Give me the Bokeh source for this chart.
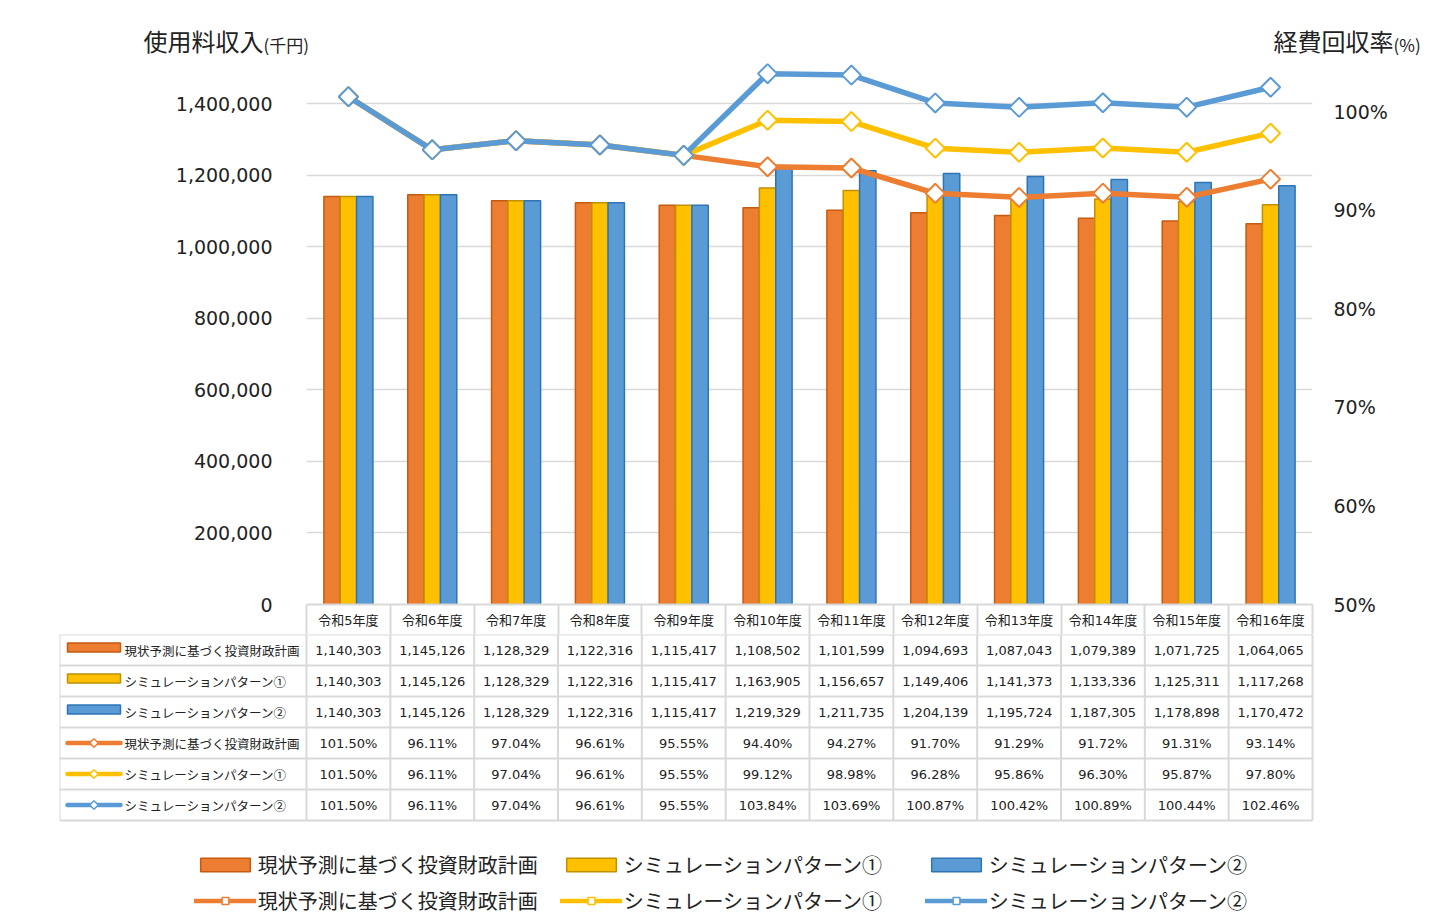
import numpy as np
from bokeh.plotting import figure
from bokeh.models import (Range1d, LinearAxis, FixedTicker, NumeralTickFormatter,
                          PrintfTickFormatter, Legend, LegendItem, ColumnDataSource)
from bokeh.layouts import column
from bokeh.core.properties import value
from bokeh.embed import file_html
from bokeh.resources import INLINE

# ---------------- data ----------------
categories = ["令和5年度", "令和6年度", "令和7年度", "令和8年度", "令和9年度", "令和10年度",
              "令和11年度", "令和12年度", "令和13年度", "令和14年度", "令和15年度", "令和16年度"]
series_names = ["現状予測に基づく投資財政計画", "シミュレーションパターン①", "シミュレーションパターン②"]
revenue_current = [1140303, 1145126, 1128329, 1122316, 1115417, 1108502, 1101599, 1094693, 1087043, 1079389, 1071725, 1064065]
revenue_pattern1 = [1140303, 1145126, 1128329, 1122316, 1115417, 1163905, 1156657, 1149406, 1141373, 1133336, 1125311, 1117268]
revenue_pattern2 = [1140303, 1145126, 1128329, 1122316, 1115417, 1219329, 1211735, 1204139, 1195724, 1187305, 1178898, 1170472]
rate_current = [101.50, 96.11, 97.04, 96.61, 95.55, 94.40, 94.27, 91.70, 91.29, 91.72, 91.31, 93.14]
rate_pattern1 = [101.50, 96.11, 97.04, 96.61, 95.55, 99.12, 98.98, 96.28, 95.86, 96.30, 95.87, 97.80]
rate_pattern2 = [101.50, 96.11, 97.04, 96.61, 95.55, 103.84, 103.69, 100.87, 100.42, 100.89, 100.44, 102.46]
revenue_ticks = [0, 200000, 400000, 600000, 800000, 1000000, 1200000, 1400000]
rate_ticks = [50, 60, 70, 80, 90, 100]
left_title, left_unit = "使用料収入", "(千円)"
right_title, right_unit = "経費回収率", "(%)"

# ---------------- style ----------------
FILL = ["#ED7D31", "#FFC000", "#5B9BD5"]
EDGE = ["#C55A11", "#BF9000", "#2E75B6"]
GRID = "#d9d9d9"
TXT = "#222222"
F_NUM = "DejaVu Sans, Noto Sans CJK JP"
F_JP = "Noto Sans CJK JP"

W = 1430
n = len(categories)
FRAME_X0, FRAME_X1 = 306, 1312       # page px of category area
COLW = (FRAME_X1 - FRAME_X0) / n     # px per category column
HT = 58                              # title strip height
HA = 576                             # chart height (frame 58..604, axis 604..634)
HB = 286                             # table + legend height
FRAME_H = 604 - HT
LEFT_MAX = 1400000 * FRAME_H / (604 - 103)
RIGHT_MAX = 50 + 50 * FRAME_H / (604 - 111)
BW = 0.195
centers = np.arange(n) + 0.5

revenues = [revenue_current, revenue_pattern1, revenue_pattern2]
rates = [rate_current, rate_pattern1, rate_pattern2]


def bare(p):
    p.outline_line_color = None
    p.background_fill_color = "white"
    p.border_fill_color = "white"
    p.frame_align = False


# ---------------- title strip ----------------
pt = figure(width=W, height=HT, x_range=Range1d(0, W), y_range=Range1d(HT, 0),
            x_axis_location=None, y_axis_location=None, toolbar_location=None,
            output_backend="svg", min_border=0, title=None)
bare(pt)
pt.xgrid.visible = False
pt.ygrid.visible = False
pt.text(x=[143, 1273], y=[40, 40], text=[left_title, right_title], text_align="left",
        text_baseline="middle", text_font=value(F_JP), text_font_size="24px", text_color=TXT)
pt.text(x=[263, 1393], y=[44, 44], text=[left_unit, right_unit], text_align="left",
        text_baseline="middle", text_font=value(F_JP), text_font_size="17px", text_color=TXT)

# ---------------- chart figure ----------------
pa = figure(width=W, height=HA, x_range=Range1d(0, n), y_range=Range1d(0, LEFT_MAX),
            x_axis_location=None, y_axis_location="left", toolbar_location=None,
            output_backend="svg", min_border_left=FRAME_X0, min_border_right=W - FRAME_X1,
            min_border_top=0, min_border_bottom=30, title=None)
pa.extra_y_ranges = {"rate": Range1d(50, RIGHT_MAX)}
bare(pa)

ya = pa.yaxis[0]
ya.ticker = FixedTicker(ticks=revenue_ticks)
ya.formatter = NumeralTickFormatter(format="0,0")
ya.axis_line_color = None
ya.major_tick_line_color = None
ya.minor_tick_line_color = None
ya.major_label_standoff = 28
ya.major_label_text_font = F_NUM
ya.major_label_text_font_size = "19px"
ya.major_label_text_color = TXT

ra = LinearAxis(y_range_name="rate", ticker=FixedTicker(ticks=rate_ticks),
                formatter=PrintfTickFormatter(format="%d%%"))
ra.axis_line_color = None
ra.major_tick_line_color = None
ra.minor_tick_line_color = None
ra.major_label_standoff = 15
ra.major_label_text_font = F_NUM
ra.major_label_text_font_size = "19px"
ra.major_label_text_color = TXT
pa.add_layout(ra, "right")

xa = LinearAxis(ticker=FixedTicker(ticks=list(centers), minor_ticks=list(range(n + 1))),
                major_label_overrides={float(c): lab for c, lab in zip(centers, categories)})
xa.axis_line_color = GRID
xa.axis_line_width = 2
xa.major_tick_line_color = None
xa.major_tick_out = 0
xa.major_tick_in = 0
xa.minor_tick_in = 0
xa.minor_tick_out = 30
xa.minor_tick_line_color = GRID
xa.minor_tick_line_width = 2
xa.major_label_standoff = -22
xa.major_label_text_font = F_NUM
xa.major_label_text_font_size = "13px"
xa.major_label_text_color = TXT
pa.add_layout(xa, "below")

for g in pa.xgrid:
    g.grid_line_color = None
pa.ygrid.ticker = FixedTicker(ticks=revenue_ticks)
pa.ygrid.grid_line_color = GRID
pa.ygrid.grid_line_width = 1.5

for i, rev in enumerate(revenues):
    src = ColumnDataSource(dict(x=centers + (i - 1) * BW, top=rev))
    pa.vbar(x="x", top="top", width=BW, bottom=0, source=src,
            fill_color=FILL[i], line_color=EDGE[i], line_width=1.5)

for i, rt in enumerate(rates):
    src = ColumnDataSource(dict(x=centers, y=rt))
    pa.line(x="x", y="y", source=src, y_range_name="rate", line_color=FILL[i],
            line_width=5.5, line_join="round", line_cap="round")
    pa.scatter(x="x", y="y", source=src, y_range_name="rate", marker="square",
               angle=np.pi / 4, size=13.5, fill_color="white", line_color=FILL[i], line_width=2)

# ---------------- table + legend figure ----------------
RH = 31
TB_X0 = 59
LABEL_W = (FRAME_X0 - TB_X0) / COLW
pb = figure(width=W, height=HB, x_range=Range1d(-LABEL_W, n + 2 / COLW),
            y_range=Range1d(HB / RH, 0), x_axis_location=None, y_axis_location=None,
            toolbar_location=None, output_backend="svg", min_border_left=TB_X0,
            min_border_right=W - FRAME_X1 - 2, min_border_top=0, min_border_bottom=0, title=None)
bare(pb)
pb.xgrid.visible = False
pb.ygrid.visible = False

nrows = 6
pb.segment(x0=[-LABEL_W] * (nrows + 1), x1=[n] * (nrows + 1), y0=list(range(nrows + 1)),
           y1=list(range(nrows + 1)), line_color=GRID, line_width=2)
vx = [-LABEL_W] + list(range(n + 1))
pb.segment(x0=vx, x1=vx, y0=[0] * len(vx), y1=[nrows] * len(vx), line_color=GRID, line_width=2)

row_texts = [[f"{v:,}" for v in r] for r in revenues] + [[f"{v:.2f}%" for v in r] for r in rates]
tx, ty, tt = [], [], []
for r, vals in enumerate(row_texts):
    for c, s in enumerate(vals):
        tx.append(c + 0.5)
        ty.append(r + 0.5)
        tt.append(s)
pb.text(x=tx, y=ty, text=tt, text_align="center", text_baseline="middle",
        text_font=value(F_NUM), text_font_size="13px", text_color=TXT)

row_labels = series_names + series_names
pb.text(x=[(124 - FRAME_X0) / COLW] * nrows, y=[r + 0.5 for r in range(nrows)], text=row_labels,
        text_align="left", text_baseline="middle", text_font=value(F_JP),
        text_font_size="12.5px", text_color=TXT)

sw_x0, sw_x1 = (67 - FRAME_X0) / COLW, (120 - FRAME_X0) / COLW
bar_sw, line_sw, mark_sw = [], [], []
for i in range(3):
    bar_sw.append(pb.rect(x=[(sw_x0 + sw_x1) / 2], y=[i + 0.42], width=sw_x1 - sw_x0, height=9 / RH,
                          fill_color=FILL[i], line_color=EDGE[i], line_width=1.5))
    line_sw.append(pb.segment(x0=[sw_x0], x1=[sw_x1], y0=[i + 3.5], y1=[i + 3.5], line_color=FILL[i],
                              line_width=4.5, line_cap="round"))
    mark_sw.append(pb.scatter(x=[(sw_x0 + sw_x1) / 2], y=[i + 3.5], marker="square", angle=np.pi / 4,
                              size=6, fill_color="white", line_color=FILL[i], line_width=1.5))

leg_x = [200, 566, 931]
GW, GH = 62, 17
for i in range(3):
    leg = Legend(items=[LegendItem(label=series_names[i], renderers=[bar_sw[i]]),
                        LegendItem(label=series_names[i], renderers=[line_sw[i], mark_sw[i]])],
                 location=(leg_x[i] - 0.1 * GW - TB_X0, 5), orientation="vertical",
                 glyph_width=GW, glyph_height=GH, label_standoff=2, spacing=7,
                 padding=0, margin=0, border_line_color=None, background_fill_alpha=0,
                 label_text_font=F_JP, label_text_font_size="20px", label_text_color=TXT)
    pb.add_layout(leg)

layout = column(pt, pa, pb, spacing=0)
open("out.html", "w").write(file_html(layout, INLINE))
